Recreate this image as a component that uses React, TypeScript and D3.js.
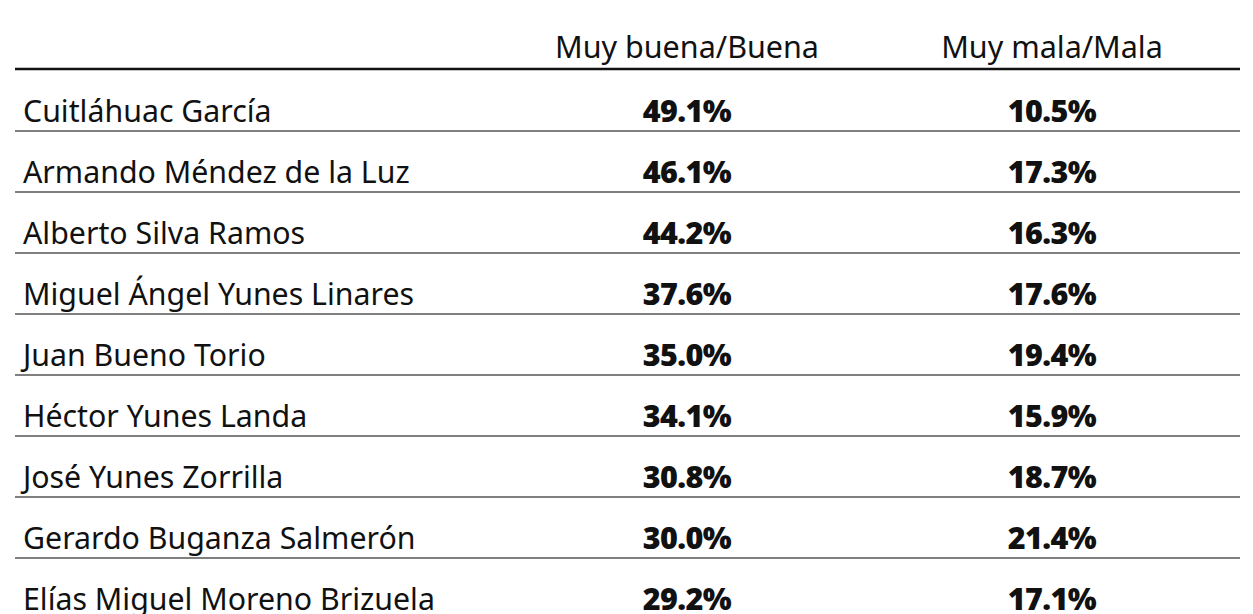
import React from "react";
import * as d3 from "d3";

const names = [
  "Cuitláhuac García",
  "Armando Méndez de la Luz",
  "Alberto Silva Ramos",
  "Miguel Ángel Yunes Linares",
  "Juan Bueno Torio",
  "Héctor Yunes Landa",
  "José Yunes Zorrilla",
  "Gerardo Buganza Salmerón",
  "Elías Miguel Moreno Brizuela",
];
const buena = [49.1, 46.1, 44.2, 37.6, 35.0, 34.1, 30.8, 30.0, 29.2];
const mala = [10.5, 17.3, 16.3, 17.6, 19.4, 15.9, 18.7, 21.4, 17.1];
const headers = ["Muy buena/Buena", "Muy mala/Mala"];

const W = 1253;
const H = 614;
const FONT = "'Noto Sans', sans-serif";

export default function App() {
  const y = d3.scaleBand<number>().domain(d3.range(names.length)).range([70, 70 + 61 * names.length]).paddingInner(0);
  const colX = d3.scalePoint<string>().domain(headers).range([687, 1052]);
  const fmt = d3.format(".1f");
  return (
    <svg width={W} height={H} style={{ position: "absolute", left: 0, top: 0, background: "#fff" }}>
      {headers.map((h) => (
        <text key={h} x={colX(h)} y={58} textAnchor="middle" fontFamily={FONT} fontSize={30.5} fill="#111">
          {h}
        </text>
      ))}
      <line x1={15} x2={1240} y1={69} y2={69} stroke="#111" strokeWidth={2.5} />
      {names.map((n, i) => {
        const top = y(i)!;
        const bw = y.bandwidth();
        return (
          <g key={n}>
            <text x={23} y={top + 52} fontFamily={FONT} fontSize={30.3} fill="#111">
              {n}
            </text>
            <text x={colX(headers[0])} y={top + 52} textAnchor="middle" fontFamily={FONT} fontWeight={900} fontSize={30.5} letterSpacing={-0.6} fill="#111">
              {fmt(buena[i]) + "%"}
            </text>
            <text x={colX(headers[1])} y={top + 52} textAnchor="middle" fontFamily={FONT} fontWeight={900} fontSize={30.5} letterSpacing={-0.6} fill="#111">
              {fmt(mala[i]) + "%"}
            </text>
            {i < names.length - 1 && (
              <line x1={15} x2={1240} y1={top + bw} y2={top + bw} stroke="#555" strokeWidth={1.5} />
            )}
          </g>
        );
      })}
    </svg>
  );
}
